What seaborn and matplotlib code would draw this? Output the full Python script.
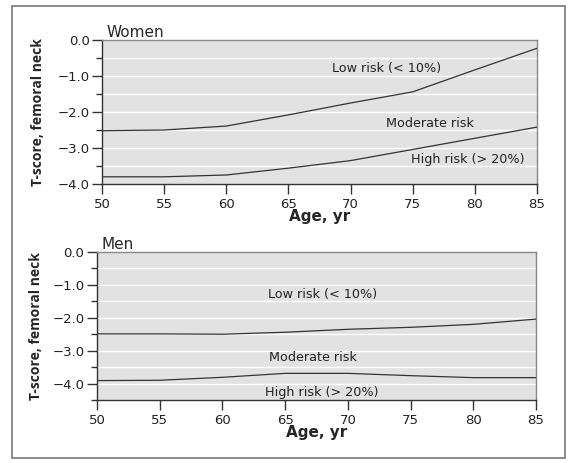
import matplotlib
matplotlib.use("Agg")
import matplotlib.pyplot as plt
import seaborn as sns
import pandas as pd
import numpy as np
from matplotlib.patches import Rectangle
from matplotlib.ticker import MultipleLocator

# ---- data ----
ages = [50, 55, 60, 65, 70, 75, 80, 85]
women_low_mod = [-2.52, -2.5, -2.39, -2.08, -1.75, -1.44, -0.83, -0.23]
women_mod_high = [-3.8, -3.8, -3.75, -3.56, -3.35, -3.04, -2.73, -2.42]
men_low_mod = [-2.49, -2.49, -2.5, -2.44, -2.35, -2.29, -2.2, -2.04]
men_mod_high = [-3.91, -3.9, -3.81, -3.69, -3.69, -3.76, -3.82, -3.82]

zone_labels = ["Low risk (< 10%)", "Moderate risk", "High risk (> 20%)"]
women_label_x = [72.9, 76.4, 79.4]
women_label_y = [-0.78, -2.33, -3.33]
men_label_x = [68.0, 67.2, 67.9]
men_label_y = [-1.28, -3.2, -4.27]

x_ticks = [50, 55, 60, 65, 70, 75, 80, 85]
y_ticks = [0, -1, -2, -3, -4]
y_tick_labels = ["0.0", "\u22121.0", "\u22122.0", "\u22123.0", "\u22124.0"]

sns.set_style("white")
plt.rcParams['font.family'] = ['DejaVu Sans']

fig = plt.figure(figsize=(5.69, 4.63), dpi=100)
fig.patch.set_facecolor("white")
fig.add_artist(Rectangle((12/569, 1-458/463), (565-12)/569, (458-6)/463,
                         transform=fig.transFigure, fill=False,
                         edgecolor="#777777", linewidth=1.2))

ax1 = fig.add_axes([102/569, 1-184/463, (537-102)/569, (184-40)/463])
ax2 = fig.add_axes([97/569, 1-400/463, (536-97)/569, (400-252)/463])

panels = [
    (ax1, "Women", women_low_mod, women_mod_high, women_label_x, women_label_y, -4.0,
     (-0.147, 0.5), (0.5, -0.172)),
    (ax2, "Men", men_low_mod, men_mod_high, men_label_x, men_label_y, -4.5,
     (-0.139, 0.5), (0.5, -0.168)),
]

for ax, title, up, lo, lx, ly, ymin, ylc, xlc in panels:
    df = pd.DataFrame({"age": ages * 2, "t": up + lo,
                       "line": ["a"] * len(ages) + ["b"] * len(ages)})
    ax.set_facecolor("#e2e2e2")
    for g in np.arange(-0.5, ymin, -0.5):
        ax.axhline(g, color="white", linewidth=1.0, zorder=1)
    sns.lineplot(data=df, x="age", y="t", units="line", estimator=None,
                 color="#333333", linewidth=0.9, ax=ax, zorder=3)
    ax.set_xlim(50, 85)
    ax.set_ylim(ymin, 0)
    ax.set_xticks(x_ticks)
    ax.set_yticks(y_ticks)
    ax.set_yticklabels(y_tick_labels)
    ax.yaxis.set_minor_locator(MultipleLocator(0.5))
    ax.tick_params(axis="both", which="both", direction="out",
                   width=1.0, color="#333333", labelsize=9.5, labelcolor="#222222",
                   left=True, bottom=True)
    ax.tick_params(axis="y", which="major", pad=2, length=7)
    ax.tick_params(axis="y", which="minor", length=4)
    ax.tick_params(axis="x", which="major", pad=3, length=7)
    for s in ["left", "bottom"]:
        ax.spines[s].set_color("#333333")
        ax.spines[s].set_linewidth(1.0)
    for s in ["top", "right"]:
        ax.spines[s].set_visible(True)
        ax.spines[s].set_color("#888888")
        ax.spines[s].set_linewidth(1.0)
    ax.set_xlabel("Age, yr", fontsize=11, fontweight="bold", va="top")
    ax.xaxis.set_label_coords(*xlc)
    ax.set_ylabel("T-score, femoral neck", fontsize=10, fontweight="bold",
                  family=["Open Sans", "DejaVu Sans"], va="center")
    ax.yaxis.set_label_coords(*ylc)
    ax.set_title(title, loc="left", fontsize=11, pad=2, x=0.01)
    for t, x, y in zip(zone_labels, lx, ly):
        ax.text(x, y, t, ha="center", va="center", fontsize=9.2, color="#222222", zorder=4)

fig.savefig("out.png", dpi=100)
